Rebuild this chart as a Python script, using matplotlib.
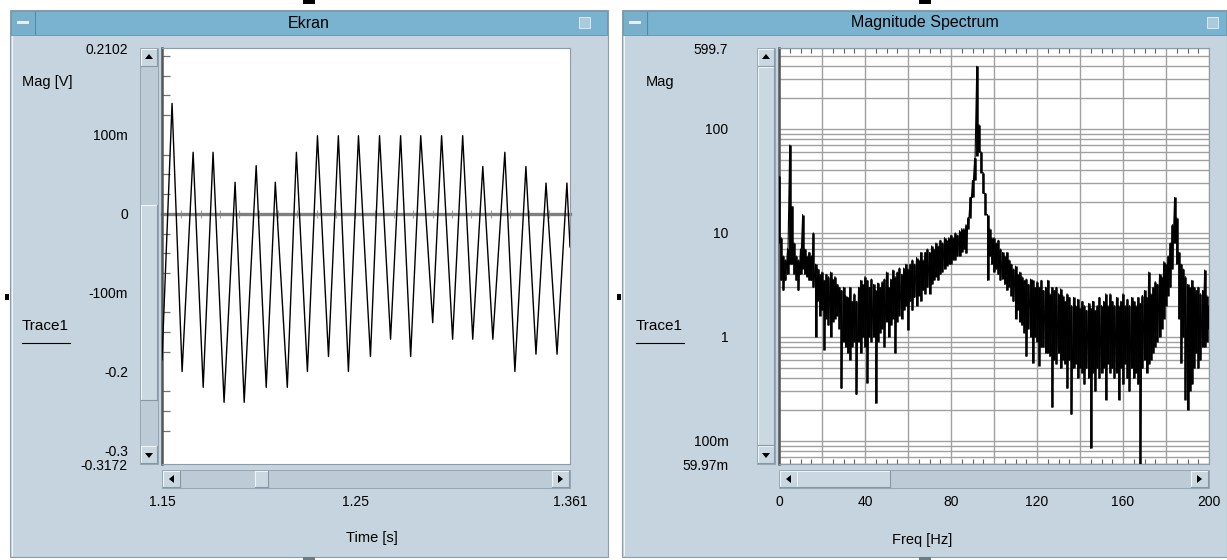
import numpy as np
import matplotlib.pyplot as plt
from matplotlib.patches import Rectangle, Polygon
from matplotlib.lines import Line2D
from matplotlib.ticker import MultipleLocator, LogLocator, NullFormatter

plt.rcParams['font.family'] = ['Liberation Sans', 'DejaVu Sans']

# ---- time trace (peaks / troughs) ----
trace_t = [1.1500, 1.1552, 1.1604, 1.1661, 1.1713, 1.1764, 1.1821, 1.1878, 1.1925,
           1.1987, 1.2039, 1.2086, 1.2148, 1.2195, 1.2252, 1.2304, 1.2361, 1.2412,
           1.2464, 1.2516, 1.2578, 1.2625, 1.2682, 1.2734, 1.2786, 1.2838, 1.2900,
           1.2946, 1.3003, 1.3055, 1.3107, 1.3159, 1.3211, 1.3273, 1.3325, 1.3382,
           1.3434, 1.3486, 1.3543, 1.3594, 1.3610]
trace_v = [-0.185, 0.140, -0.200, 0.078, -0.220, 0.078, -0.239, 0.040, -0.239,
           0.061, -0.220, 0.040, -0.220, 0.078, -0.200, 0.099, -0.181, 0.099,
           -0.200, 0.099, -0.181, 0.099, -0.159, 0.099, -0.181, 0.099, -0.138,
           0.099, -0.159, 0.099, -0.159, 0.060, -0.159, 0.078, -0.200, 0.060,
           -0.178, 0.039, -0.178, 0.039, -0.042]

time_ticks = [1.15, 1.25, 1.361]
time_labels = ['1.15', '1.25', '1.361']
volt_ticks = [0.2102, 0.1, 0, -0.1, -0.2, -0.3, -0.3172]
volt_labels = ['0.2102', '100m', '0', '-100m', '-0.2', '-0.3', '-0.3172']

# ---- magnitude spectrum, 1 Hz bins: upper and lower edge of the noisy band ----
spec_f = list(range(201))
spec_hi = [35, 9, 6, 5.5, 7, 70, 18, 8, 6, 5.5,
           7, 15, 7, 6, 6.5, 6, 10, 5, 4.5, 4,
           4.2, 3.5, 4, 3.8, 4.2, 3.6, 3.8, 3.2, 3.0, 2.8,
           3.0, 2.5, 2.4, 3.0, 2.2, 2.6, 2.2, 3.0, 3.5, 3.2,
           3.8, 3.5, 3.0, 3.6, 3.2, 2.8, 3.3, 3.0, 3.4, 3.6,
           4.2, 3.0, 3.6, 4.4, 3.8, 4.2, 4.6, 4.0, 4.6, 5.0,
           4.5, 5.0, 5.5, 5.0, 5.8, 5.5, 6.5, 5.5, 6.5, 7.0,
           6.5, 7.5, 7.0, 8.0, 7.5, 8.5, 8.0, 9.0, 8.5, 9.0,
           9.5, 9.0, 10, 9.5, 10.5, 11, 11, 12, 14, 22,
           32, 52, 400, 110, 60, 38, 24, 15, 11, 9,
           9.0, 8.0, 8.5, 7.0, 6.5, 6.0, 6.5, 5.5, 5.0, 4.5,
           4.8, 4.0, 4.2, 3.8, 3.5, 3.6, 3.2, 3.6, 3.5, 3.0,
           3.4, 3.0, 3.5, 2.8, 3.0, 3.5, 2.6, 3.0, 2.8, 3.0,
           2.6, 2.9, 2.5, 2.2, 2.6, 2.4, 2.0, 2.4, 2.0, 2.3,
           1.9, 2.2, 2.0, 1.8, 2.1, 1.9, 2.2, 1.8, 2.0, 2.4,
           2.0, 2.2, 2.6, 2.0, 2.6, 2.2, 2.0, 2.4, 2.0, 2.2,
           2.6, 2.0, 2.3, 2.0, 2.4, 2.2, 2.0, 2.4, 2.1, 2.5,
           2.8, 2.4, 4.2, 2.6, 3.0, 3.4, 3.2, 4.0, 3.8, 5.3,
           5.0, 6.0, 8.0, 12, 22, 14, 6.5, 5.0, 4.5, 3.8,
           3.2, 3.0, 3.5, 3.0, 2.8, 3.0, 2.6, 2.8, 4.4, 2.5,
           2.0]
spec_lo = [8, 3.5, 2.8, 3.5, 4, 5, 5, 4, 3.5, 2.8,
           4, 4.5, 4, 3.8, 3.5, 3.5, 3.0, 1.0, 2.2, 1.6,
           1.8, 0.75, 1.5, 1.3, 1.0, 1.4, 1.5, 1.6, 1.2, 0.32,
           0.9, 0.8, 0.7, 0.6, 0.8, 0.9, 0.28, 0.9, 0.7, 1.0,
           0.8, 0.36, 1.0, 0.9, 1.0, 0.23, 0.9, 1.1, 1.2, 0.8,
           1.4, 1.0, 1.3, 1.5, 0.7, 1.4, 1.6, 1.5, 1.8, 2.0,
           1.17, 2.2, 1.8, 2.4, 2.0, 2.5, 2.2, 2.8, 2.6, 3.0,
           2.6, 3.2, 3.5, 3.8, 3.5, 4.0, 4.2, 4.5, 4.8, 5.0,
           5.0, 5.5, 5.5, 6.0, 6.0, 6.5, 7.0, 6.4, 11, 14,
           22, 32, 55, 60, 38, 24, 15, 3.5, 6, 5,
           4.2, 4.5, 4.0, 3.5, 3.6, 3.2, 2.8, 3.0, 2.5, 2.2,
           1.5, 1.8, 1.4, 1.3, 1.1, 0.65, 1.2, 1.0, 0.56, 1.0,
           0.9, 0.53, 0.8, 0.8, 0.7, 0.7, 0.65, 0.21, 0.6, 0.55,
           0.7, 0.5, 0.6, 0.55, 0.32, 0.6, 0.18, 0.5, 0.55, 0.4,
           0.5, 0.45, 0.35, 0.5, 0.4, 0.085, 0.45, 0.3, 0.5, 0.4,
           0.45, 0.5, 0.25, 0.55, 0.45, 0.5, 0.4, 0.45, 0.25, 0.5,
           0.35, 0.55, 0.4, 0.3, 0.5, 0.4, 0.45, 0.35, 0.06, 0.5,
           0.6, 0.45, 0.55, 0.6, 0.7, 0.8, 0.9, 1.0, 1.2, 1.5,
           2.0, 2.5, 3.0, 4.5, 8, 5, 1.5, 0.56, 1.0, 0.25,
           0.2, 0.3, 0.35, 0.5, 0.7, 0.5, 0.6, 0.8, 0.8, 0.9,
           1.2]

freq_ticks = [0, 20, 40, 60, 80, 100, 120, 140, 160, 180, 200]
freq_labels = ['0', '', '40', '', '80', '', '120', '', '160', '', '200']
spec_ticks = [599.7, 100, 10, 1, 0.1, 0.05997]
spec_labels = ['599.7', '100', '10', '1', '100m', '59.97m']

# ---- colours ----
BODY = '#c5d4de'
TITLE = '#7ab3cf'
TROUGH = '#bccbd5'
BTN = '#c9d7e0'
LIGHT = '#eef4f7'
DARK = '#8797a3'
GRID = '#a0a0a0'

W, H = 1227, 560
fig = plt.figure(figsize=(W / 100, H / 100), dpi=100)
fig.patch.set_facecolor('white')


def box(x0, y0, x1, y1, fc, ec='none', lw=0.0, z=1):
    fig.add_artist(Rectangle((x0 / W, 1 - y1 / H), (x1 - x0) / W, (y1 - y0) / H,
                             transform=fig.transFigure, fc=fc, ec=ec, lw=lw, zorder=z))


def seg(xa, ya, xb, yb, c, lw=0.8, z=2):
    fig.add_artist(Line2D([xa / W, xb / W], [1 - ya / H, 1 - yb / H],
                          transform=fig.transFigure, color=c, lw=lw, zorder=z))


def bevel(x0, y0, x1, y1, z=3):
    seg(x0, y0, x1, y0, LIGHT, z=z)
    seg(x0, y0, x0, y1, LIGHT, z=z)
    seg(x0, y1, x1, y1, DARK, z=z)
    seg(x1, y0, x1, y1, DARK, z=z)


def tri(cx, cy, d):
    pts = {'up': [(-4, 2), (4, 2), (0, -3)], 'down': [(-4, -2), (4, -2), (0, 3)],
           'left': [(2, -4), (2, 4), (-3, 0)], 'right': [(-2, -4), (-2, 4), (3, 0)]}[d]
    fig.add_artist(Polygon([((cx + a) / W, 1 - (cy + b) / H) for a, b in pts],
                           closed=True, transform=fig.transFigure, fc='black', ec='none', zorder=4))


def window(x0, x1, title, btn_x, px, vx, vthumb, hthumb):
    # frame, title bar and buttons
    box(x0, 10, x1, 557, BODY, ec='#8d9ea9', lw=0.8)
    seg(x0 + 2, 36, x0 + 2, 555, LIGHT)
    box(x0 + 1, 11, x1 - 1, 35, TITLE, ec='#5f95b0', lw=0.6, z=2)
    box(x0 + 2, 12, x0 + 24, 34, '#78b0cc', z=3)
    seg(x0 + 25, 12, x0 + 25, 34, '#4f8aa8', lw=0.8, z=3)
    box(x0 + 7, 21, x0 + 19, 24, '#e4eff5', z=4)
    box(btn_x, 17, btn_x + 11, 28, '#a9cbdc', ec='#e6f0f5', lw=0.6, z=3)
    fig.text(((x0 + x1) / 2) / W, 1 - 23 / H, title, ha='center', va='center',
             fontsize=11.5, zorder=5)
    # vertical scrollbar
    box(vx, 48, vx + 18, 464, TROUGH, ec='#8e9fab', lw=0.6)
    box(vx + 1, 49, vx + 17, 66, BTN, z=2)
    bevel(vx + 1, 49, vx + 17, 66)
    tri(vx + 9, 57, 'up')
    box(vx + 1, 446, vx + 17, 463, BTN, z=2)
    bevel(vx + 1, 446, vx + 17, 463)
    tri(vx + 9, 455, 'down')
    box(vx + 1, vthumb[0], vx + 17, vthumb[1], '#c9d8e1', z=2)
    bevel(vx + 1, vthumb[0], vx + 17, vthumb[1])
    # horizontal scrollbar
    box(px[0], 470, px[1], 488, TROUGH, ec='#8e9fab', lw=0.6)
    box(px[0] + 1, 471, px[0] + 18, 487, BTN, z=2)
    bevel(px[0] + 1, 471, px[0] + 18, 487)
    tri(px[0] + 10, 479, 'left')
    box(px[1] - 18, 471, px[1] - 1, 487, BTN, z=2)
    bevel(px[1] - 18, 471, px[1] - 1, 487)
    tri(px[1] - 10, 479, 'right')
    box(hthumb[0], 471, hthumb[1], 487, '#c9d8e1', z=2)
    bevel(hthumb[0], 471, hthumb[1], 487)
    # window handles
    cx = (x0 + x1) / 2
    box(cx - 6, 0, cx + 6, 4, 'black', z=5)
    box(cx - 6, 557, cx + 6, 560, '#6d7b85', z=5)
    box(x0 - 5, 294, x0 - 1, 300, 'black', z=5)


window(10, 608, 'Ekran', 579, (162, 570), 140, (205, 400), (255, 268))
window(622, 1227, 'Magnitude Spectrum', 1207, (779, 1209), 757, (67, 445), (797, 890))

# side texts
for x, lab in [(22, 'Mag [V]'), (646, 'Mag')]:
    fig.text(x / W, 1 - 82 / H, lab, ha='left', va='center', fontsize=10.5)
for x in (22, 636):
    fig.text(x / W, 1 - 326 / H, 'Trace1', ha='left', va='center', fontsize=11)
    seg(x, 343, x + 48, 343, 'black', lw=0.8)
fig.text(372 / W, 1 - 538 / H, 'Time [s]', ha='center', va='center', fontsize=10.5)
fig.text(922 / W, 1 - 540 / H, 'Freq [Hz]', ha='center', va='center', fontsize=10.5)

# ---- time trace axes ----
axL = fig.add_axes([162 / W, 1 - 464 / H, 408 / W, 416 / H])
axL.set_zorder(10)
axL.set_facecolor('white')
axL.plot(trace_t, trace_v, color='black', lw=1.0, zorder=3)
axL.set_xlim(1.15, 1.361)
axL.set_ylim(-0.3172, 0.2102)
axL.set_xticks(time_ticks, time_labels)
axL.tick_params(axis='x', length=0, pad=22, labelsize=10)
axL.set_yticks(volt_ticks, volt_labels)
axL.tick_params(axis='y', which='major', length=0, pad=24.5, labelsize=10)
axL.yaxis.set_minor_locator(MultipleLocator(0.025))
axL.tick_params(axis='y', which='minor', direction='in', length=6, width=0.9, color='#707070')
for s in ('top', 'right', 'bottom'):
    axL.spines[s].set_color('#8c9ca8')
    axL.spines[s].set_linewidth(0.8)
axL.spines['left'].set_color('#555555')
axL.spines['left'].set_linewidth(1.8)
zero = axL.secondary_xaxis(0.3172 / 0.5274)
for s in ('top', 'bottom'):
    zero.spines[s].set_color('#808080')
    zero.spines[s].set_linewidth(2.4)
zero.xaxis.set_major_locator(MultipleLocator(0.01))
zero.tick_params(axis='x', direction='inout', length=5.5, width=0.8, color='#a0a0a0',
                 labeltop=False, labelbottom=False)

# ---- spectrum axes ----
axR = fig.add_axes([779 / W, 1 - 464 / H, 430 / W, 416 / H])
axR.set_zorder(10)
axR.set_facecolor('white')
xs = np.repeat(spec_f, 2)
ys = np.column_stack([spec_hi, spec_lo]).ravel()
axR.vlines(spec_f, spec_lo, spec_hi, color='black', lw=1.8, zorder=3)
axR.plot(xs, ys, color='black', lw=0.8, zorder=3)
axR.set_yscale('log')
axR.set_xlim(0, 200)
axR.set_ylim(0.05997, 599.7)
axR.set_yticks(spec_ticks, spec_labels)
axR.yaxis.set_minor_locator(LogLocator(base=10, subs=np.arange(2, 10)))
axR.yaxis.set_minor_formatter(NullFormatter())
axR.tick_params(axis='y', which='both', length=0)
axR.tick_params(axis='y', which='major', pad=36.5, labelsize=10)
axR.set_xticks(freq_ticks, freq_labels)
axR.xaxis.set_minor_locator(MultipleLocator(5))
axR.tick_params(axis='x', which='major', length=0, pad=22, labelsize=10)
axR.tick_params(axis='x', which='minor', direction='in', length=3.5, width=0.8,
                top=True, bottom=True, color='#606060')
axR.grid(True, which='major', color=GRID, lw=1.0)
axR.grid(True, which='minor', axis='y', color=GRID, lw=1.0)
axR.set_axisbelow(True)
for s in ('top', 'right', 'bottom'):
    axR.spines[s].set_color('#8c9ca8')
    axR.spines[s].set_linewidth(0.8)
axR.spines['left'].set_color('#555555')
axR.spines['left'].set_linewidth(1.8)

fig.savefig('out.png', dpi=100)
